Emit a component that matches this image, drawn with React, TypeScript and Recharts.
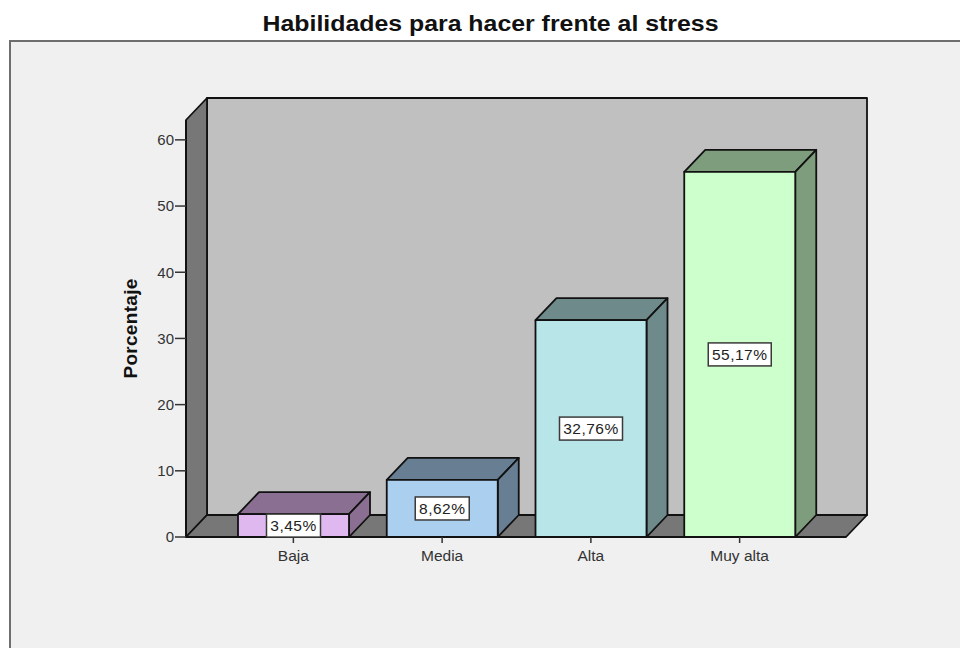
import { Bar, BarChart, Customized, LabelList, XAxis, YAxis, usePlotArea } from 'recharts';

const categories = ['Baja', 'Media', 'Alta', 'Muy alta'];
const percentages = [3.45, 8.62, 32.76, 55.17];
const valueLabels = ['3,45%', '8,62%', '32,76%', '55,17%'];
const frontColors = ['#dfb8f0', '#abcfef', '#b8e6e8', '#ccffcc'];
const shadeColors = ['#8a6f92', '#687f93', '#6f8a8b', '#7d9d7d'];
const yTicks = [0, 10, 20, 30, 40, 50, 60];

const chartData = categories.map((name, i) => ({
  name,
  value: percentages[i],
  label: valueLabels[i],
  front: frontColors[i],
  shade: shadeColors[i]
}));

const DEPTH_X = 21;
const DEPTH_Y = 22;
const EDGE = '#111111';

const pts = (list: number[][]) => list.map((p) => p.join(',')).join(' ');

function Walls() {
  const area = usePlotArea();
  if (!area) return null;
  const { x, y, width, height } = area;
  const bottom = y + height;
  const right = x + width;
  return (
    <g stroke={EDGE} strokeWidth={1.8} strokeLinejoin="round">
      <rect x={x + DEPTH_X} y={y - DEPTH_Y} width={width} height={height} fill="#c0c0c0" />
      <polygon
        points={pts([[x, y], [x + DEPTH_X, y - DEPTH_Y], [x + DEPTH_X, bottom - DEPTH_Y], [x, bottom]])}
        fill="#777777"
      />
      <polygon
        points={pts([[x, bottom], [x + DEPTH_X, bottom - DEPTH_Y], [right + DEPTH_X, bottom - DEPTH_Y], [right, bottom]])}
        fill="#777777"
      />
    </g>
  );
}

function Box3D(props: any) {
  const { x, y, width, height, payload } = props;
  const r = x + width;
  const b = y + height;
  return (
    <g stroke={EDGE} strokeWidth={1.8} strokeLinejoin="round">
      <polygon
        points={pts([[x, y], [x + DEPTH_X, y - DEPTH_Y], [r + DEPTH_X, y - DEPTH_Y], [r, y]])}
        fill={payload.shade}
      />
      <polygon
        points={pts([[r, y], [r + DEPTH_X, y - DEPTH_Y], [r + DEPTH_X, b - DEPTH_Y], [r, b]])}
        fill={payload.shade}
      />
      <rect x={x} y={y} width={width} height={height} fill={payload.front} />
    </g>
  );
}

function ValueBox(props: any) {
  const { x, y, width, height, value } = props;
  const cx = x + width / 2;
  const cy = y + height / 2;
  const w = String(value).length > 5 ? 63 : 54;
  return (
    <g>
      <rect x={cx - w / 2} y={cy - 11.5} width={w} height={23} fill="#ffffff" stroke="#3a3a3a" strokeWidth={1.5} />
      <text
        x={cx}
        y={cy + 5.5}
        textAnchor="middle"
        fontSize={15.5}
        letterSpacing={0.5}
        fontFamily="Liberation Sans"
        fill="#222222"
      >
        {value}
      </text>
    </g>
  );
}

export default function App() {
  return (
    <div style={{ position: 'absolute', left: 0, top: 0, width: 960, height: 648, overflow: 'hidden', background: '#ffffff' }}>
      <div
        style={{
          position: 'absolute',
          left: 9,
          top: 40,
          width: 960,
          height: 620,
          background: '#f0f0f0',
          borderLeft: '2px solid #6e6e6e',
          borderTop: '2px solid #6e6e6e'
        }}
      />
      <div
        style={{
          position: 'absolute',
          left: 0,
          top: 11,
          width: 981,
          textAlign: 'center',
          fontFamily: 'Liberation Sans',
          fontWeight: 700,
          fontSize: 22,
          color: '#111111',
          transform: 'scaleX(1.13)',
          transformOrigin: '490.5px 0'
        }}
      >
        Habilidades para hacer frente al stress
      </div>
      <div style={{ position: 'absolute', left: 0, top: 0 }}>
        <BarChart width={960} height={648} data={chartData} margin={{ top: 120, right: 114, bottom: 81, left: 0 }}>
          <Customized component={Walls} />
          <XAxis
            dataKey="name"
            height={30}
            interval={0}
            padding={{ left: 33, right: 32 }}
            axisLine={{ stroke: EDGE, strokeWidth: 1.8 }}
            tickLine={{ stroke: '#333333', strokeWidth: 1.5 }}
            tickSize={6}
            tickMargin={7}
            tick={{ fill: '#333333', fontSize: 15.5, fontFamily: 'Liberation Sans' }}
          />
          <YAxis
            width={186}
            domain={[0, 63]}
            ticks={yTicks}
            allowDataOverflow
            axisLine={{ stroke: EDGE, strokeWidth: 1.8 }}
            tickLine={{ stroke: '#333333', strokeWidth: 1.5 }}
            tickSize={11}
            tickMargin={1}
            tick={{ fill: '#333333', fontSize: 15, fontFamily: 'Liberation Sans' }}
            label={{
              value: 'Porcentaje',
              angle: -90,
              position: 'insideLeft',
              dx: 125,
              dy: 0,
              style: { fontFamily: 'Liberation Sans', fontWeight: 700, fontSize: 19, letterSpacing: 0.3, fill: '#111111', textAnchor: 'middle' }
            }}
          />
          <Bar dataKey="value" barSize={111} shape={<Box3D />} isAnimationActive={false}>
            <LabelList dataKey="label" content={<ValueBox />} />
          </Bar>
        </BarChart>
      </div>
    </div>
  );
}
